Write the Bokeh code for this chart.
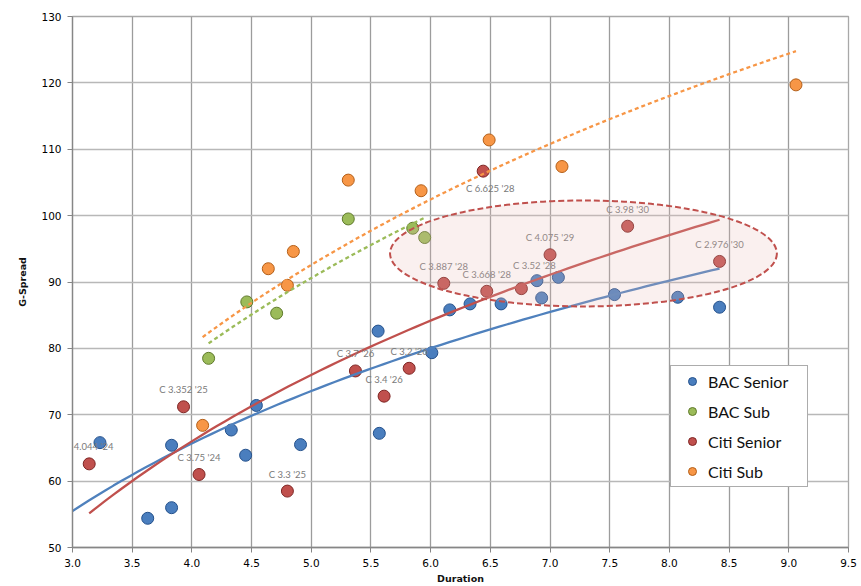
import numpy as np
from bokeh.plotting import figure
from bokeh.models import (ColumnDataSource, FixedTicker, NumeralTickFormatter,
                          Legend, LegendItem, Range1d, Title)
from bokeh.embed import file_html
from bokeh.resources import INLINE
from bokeh.core.properties import value

# ---------------- data ----------------
bac_senior_dur = [3.23, 3.63, 3.83, 3.83, 4.33, 4.45, 4.54, 4.91, 5.56, 5.57,
                  6.01, 6.16, 6.33, 6.59, 6.89, 6.93, 7.07, 7.54, 8.07, 8.42]
bac_senior_spread = [65.8, 54.4, 65.4, 56.0, 67.7, 63.9, 71.4, 65.5, 82.6, 67.2,
                     79.35, 85.8, 86.7, 86.7, 90.2, 87.6, 90.7, 88.1, 87.7, 86.2]

bac_sub_dur = [4.14, 4.46, 4.71, 5.31, 5.85, 5.95]
bac_sub_spread = [78.5, 87.0, 85.3, 99.5, 98.1, 96.7]

citi_senior_dur = [3.14, 3.93, 4.06, 4.80, 5.37, 5.61, 5.82, 6.11, 6.44, 6.47,
                   6.76, 7.00, 7.65, 8.42]
citi_senior_spread = [62.6, 71.2, 61.0, 58.5, 76.6, 72.8, 77.0, 89.8, 106.7, 88.6,
                      89.0, 94.1, 98.4, 93.1]
citi_senior_labels = ["C 4.044 '24", "C 3.352 '25", "C 3.75 '24", "C 3.3 '25",
                      "C 3.7 '26", "C 3.4 '26", "C 3.2 '26", "C 3.887 '28",
                      "C 6.625 '28", "C 3.668 '28", "C 3.52 '28", "C 4.075 '29",
                      "C 3.98 '30", "C 2.976 '30"]

citi_sub_dur = [4.09, 4.64, 4.80, 4.85, 5.31, 5.92, 6.49, 7.10, 9.06]
citi_sub_spread = [68.4, 92.0, 89.5, 94.6, 105.35, 103.75, 111.4, 107.4, 119.7]

series_names = ["BAC Senior", "BAC Sub", "Citi Senior", "Citi Sub"]
x_ticks = [3.0, 3.5, 4.0, 4.5, 5.0, 5.5, 6.0, 6.5, 7.0, 7.5, 8.0, 8.5, 9.0, 9.5]
y_ticks = [50, 60, 70, 80, 90, 100, 110, 120, 130]
x_title = "Duration"
y_title = "G-Spread"

# BAC Senior log trendline (y = a + b*ln x): it was fitted
# on a bond set that extends left of the 3.0 axis minimum, so it is not refitted.
bac_senior_trend_ab = [16.6, 35.4]
bac_senior_trend_span = [3.0, 8.42]

# ---------------- styles / layout ----------------
COLORS = {"BAC Senior": ("#4A7EBE", "#24518C"),
          "BAC Sub": ("#9BBB59", "#5F7A2B"),
          "Citi Senior": ("#C0504D", "#7E2523"),
          "Citi Sub": ("#F79646", "#B45F18")}
TREND_STYLE = {"BAC Senior": ("#4F81BD", "solid"),
               "BAC Sub": ("#9BBB59", "4 3"),
               "Citi Senior": ("#C0504D", "solid"),
               "Citi Sub": ("#F79646", "4 3")}
LABEL_NUDGE = {"C 3.52 '28": (13, -23), "C 6.625 '28": (7, 17)}
LABEL_DEFAULT = (0, -17)

# highlighted zone (ellipse) in chart units
ZONE_X, ZONE_Y, ZONE_W, ZONE_H = 7.28, 94.3, 3.24, 15.96

p = figure(width=861, height=586, output_backend="svg", toolbar_location=None,
           x_range=Range1d(3.0, 9.5), y_range=Range1d(50, 130),
           min_border_left=72, min_border_right=13, min_border_top=16,
           min_border_bottom=39)
p.background_fill_color = "white"
p.border_fill_color = "white"
p.outline_line_color = "#A8A8A8"
p.outline_line_width = 1.3

for ax in (p.xaxis[0], p.yaxis[0]):
    ax.axis_line_color = "#868686"
    ax.axis_line_width = 1.3
    ax.major_tick_line_color = "#868686"
    ax.major_tick_in = 0
    ax.major_tick_out = 5
    ax.minor_tick_line_color = None
    ax.major_label_text_font = "DejaVu Sans"
    ax.major_label_text_font_size = "10.5px"
    ax.major_label_text_color = "#000000"
    ax.major_label_standoff = 6

p.xaxis.ticker = FixedTicker(ticks=x_ticks)
p.yaxis.ticker = FixedTicker(ticks=y_ticks)
p.xaxis.formatter = NumeralTickFormatter(format="0.0")
p.yaxis.formatter = NumeralTickFormatter(format="0")

p.xgrid.grid_line_color = "#9C9C9C"
p.xgrid.grid_line_width = 1.3
p.ygrid.grid_line_color = "#B8B8B8"
p.ygrid.grid_line_width = 1.6

data = {
    "BAC Senior": (bac_senior_dur, bac_senior_spread),
    "BAC Sub": (bac_sub_dur, bac_sub_spread),
    "Citi Senior": (citi_senior_dur, citi_senior_spread),
    "Citi Sub": (citi_sub_dur, citi_sub_spread),
}

# points
point_renderers = {}
for name in series_names:
    xs, ys = data[name]
    fill, edge = COLORS[name]
    src = ColumnDataSource(dict(x=xs, y=ys))
    r = p.scatter("x", "y", source=src, size=12, marker="circle",
                  fill_color=fill, line_color=edge, line_width=1)
    point_renderers[name] = r

# logarithmic trendlines
for name in series_names:
    xs, ys = data[name]
    xs = np.asarray(xs, float)
    ys = np.asarray(ys, float)
    if name == "BAC Senior":
        a, b = bac_senior_trend_ab
        x0, x1 = bac_senior_trend_span
    else:
        b, a = np.polyfit(np.log(xs), ys, 1)
        x0, x1 = xs.min(), xs.max()
    xx = np.linspace(x0, x1, 80)
    yy = a + b * np.log(xx)
    color, dash = TREND_STYLE[name]
    p.line(xx, yy, line_color=color, line_width=2.3, line_dash=dash)

# data labels for Citi Senior
dx = [LABEL_NUDGE.get(t, LABEL_DEFAULT)[0] for t in citi_senior_labels]
dy = [LABEL_NUDGE.get(t, LABEL_DEFAULT)[1] for t in citi_senior_labels]
lab_src = ColumnDataSource(dict(x=citi_senior_dur, y=citi_senior_spread,
                                text=citi_senior_labels, dx=dx, dy=dy))
p.text("x", "y", text="text", source=lab_src, x_offset="dx", y_offset="dy",
       text_font=value("Lato"), text_font_size="9.5px", text_color="#7A7A7A",
       text_align="center", text_baseline="middle")

# highlighted zone
p.ellipse(x=[ZONE_X], y=[ZONE_Y], width=[ZONE_W], height=[ZONE_H],
          fill_color="#E6B9B8", fill_alpha=0.22,
          line_color="#C0504D", line_width=2, line_dash="6 3")

# axis titles
p.add_layout(Title(text=x_title, align="center", offset=13, standoff=2,
                   text_font="DejaVu Sans", text_font_style="bold",
                   text_font_size="9.5px", text_color="#111111"), "below")
p.add_layout(Title(text=y_title, align="center", offset=15, standoff=22,
                   text_font="DejaVu Sans", text_font_style="bold",
                   text_font_size="9.5px", text_color="#111111"), "left")

# legend
items = [LegendItem(label=n, renderers=[point_renderers[n]]) for n in series_names]
legend = Legend(items=items, location=(598, 60), orientation="vertical",
                padding=5, spacing=10, glyph_width=32, glyph_height=20,
                label_height=20, label_width=94, label_standoff=0,
                label_text_font="Lato", label_text_font_size="16px",
                label_text_color="#111111",
                border_line_color="#5A5A5A", border_line_width=1,
                background_fill_color="white", background_fill_alpha=1.0)
p.add_layout(legend)

open("out.html", "w").write(file_html(p, INLINE))
